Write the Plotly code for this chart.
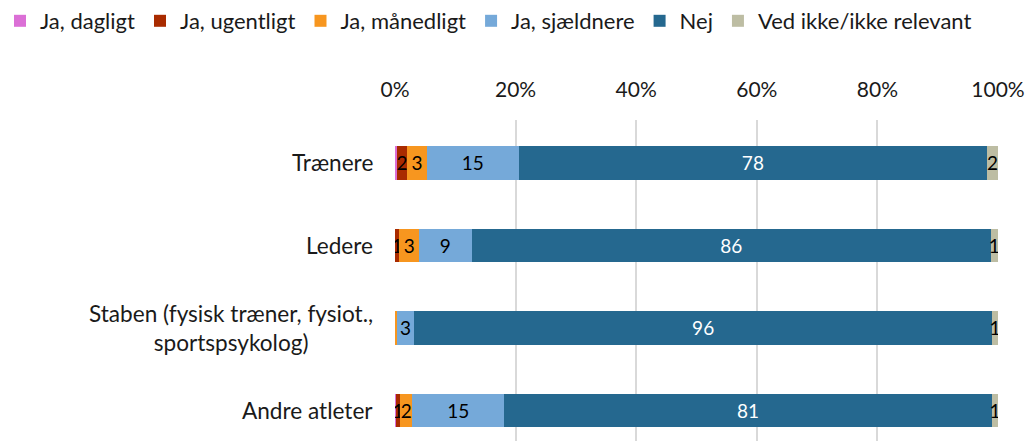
import plotly.graph_objects as go

categories = ["Trænere", "Ledere", "Staben (fysisk træner, fysiot.,<br>sportspsykolog)", "Andre atleter"]
series_names = ["Ja, dagligt", "Ja, ugentligt", "Ja, månedligt", "Ja, sjældnere", "Nej", "Ved ikke/ikke relevant"]
dagligt = [0.3, 0.0, 0.0, 0.2]
ugentligt = [1.7, 0.7, 0.0, 0.6]
maanedligt = [3.3, 3.3, 0.3, 2.1]
sjaeldnere = [15.2, 8.7, 2.9, 15.2]
nej = [77.7, 86.1, 95.8, 80.9]
ved_ikke = [1.8, 1.2, 1.0, 1.0]
tick_vals = [0, 20, 40, 60, 80, 100]
tick_text = ["0%", "20%", "40%", "60%", "80%", "100%"]

series = [dagligt, ugentligt, maanedligt, sjaeldnere, nej, ved_ikke]
colors = ["#DB6FD6", "#A92B00", "#F7961F", "#75A9D9", "#25688F", "#BDBDA3"]
text_colors = ["#000000", "#000000", "#000000", "#000000", "#FFFFFF", "#000000"]

FONT = "Lato"
TXT = "#1a1a1a"
ypos = list(range(len(categories)))

fig = go.Figure()
for name, vals, col, tcol in zip(series_names, series, colors, text_colors):
    labels = [str(int(round(v))) if round(v) >= 1 else "" for v in vals]
    fig.add_trace(go.Bar(
        y=ypos, x=vals, name=name, orientation="h",
        marker=dict(color=col, line=dict(width=0)),
        text=labels, textposition="inside", insidetextanchor="middle",
        textangle=0, constraintext="none",
        textfont=dict(family=FONT, size=19, color=tcol),
        hoverinfo="skip",
    ))

for i, c in enumerate(categories):
    fig.add_annotation(
        x=0, xref="paper", y=i, yref="y", xanchor="right", xshift=-20,
        text=c, showarrow=False, align="center",
        font=dict(family=FONT, size=22.6, color=TXT),
    )

fig.update_layout(
    width=1030, height=441,
    barmode="stack", bargap=0.59,
    plot_bgcolor="white", paper_bgcolor="white",
    margin=dict(l=394, r=32, t=120, b=0),
    uniformtext=dict(minsize=19, mode="show"),
    font=dict(family=FONT, size=20, color=TXT),
    showlegend=True,
    legend=dict(
        orientation="h", xref="paper", yref="paper",
        x=-0.655, y=1.375, xanchor="left", yanchor="top",
        font=dict(family=FONT, size=22, color=TXT),
        itemwidth=30, traceorder="normal",
    ),
    xaxis=dict(
        side="top", range=[0, 100], tickvals=tick_vals, ticktext=tick_text,
        showgrid=True, gridcolor="#D9D9D9", gridwidth=2,
        zeroline=False, showline=False,
        ticks="outside", ticklen=14, tickcolor="rgba(0,0,0,0)",
        tickfont=dict(family=FONT, size=21, color=TXT),
        fixedrange=True,
    ),
    yaxis=dict(
        range=[3.37, -0.52], tickvals=ypos, showticklabels=False,
        showgrid=False, zeroline=False, showline=False, fixedrange=True,
    ),
)

fig.write_html("out.html")
